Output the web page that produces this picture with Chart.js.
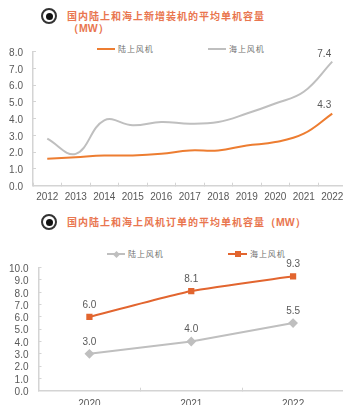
<!DOCTYPE html>
<html>
<head>
<meta charset="utf-8">
<script src="https://cdn.jsdelivr.net/npm/chart.js@4/dist/chart.umd.min.js"></script>
<style>
  html, body { margin: 0; padding: 0; background: #fff; overflow: hidden; }
  #page { position: relative; width: 343px; height: 405px; overflow: hidden; }
  canvas { position: absolute; left: 0; }
  .bullet { position: absolute; left: 41px; width: 16px; height: 16px; box-sizing: border-box;
            border: 2px solid #333; border-radius: 50%; background: #fff; }
  .bullet i { position: absolute; left: 2.5px; top: 2.5px; width: 7px; height: 7px; border-radius: 50%; background: #111; }
  .title { position: absolute; left: 67px; color: #e9764f; font: bold 10px "Noto Sans CJK SC"; letter-spacing: 1px; white-space: nowrap; line-height: 12px; }
  .title b { font-family: "Liberation Sans"; letter-spacing: 0; font-size: 10.5px; }
  .legend { position: absolute; color: #707070; font: 8px "Noto Sans CJK SC"; letter-spacing: 0.9px; white-space: nowrap; line-height: 12px; }
  .key { position: absolute; height: 2px; }
  .dot { position: absolute; }
</style>
</head>
<body>
<div id="page">
  <div class="bullet" style="top:8px"><i></i></div>
  <div class="title" style="top:10px">国内陆上和海上新增装机的平均单机容量</div>
  <div class="title" style="top:22px;left:68px"><b>（MW）</b></div>
  <div class="key" style="left:97px;top:48px;width:18px;background:#ed7d31"></div>
  <div class="legend" style="left:118px;top:43px">陆上风机</div>
  <div class="key" style="left:208px;top:48px;width:18px;background:#bfbfbf"></div>
  <div class="legend" style="left:229px;top:43px">海上风机</div>

  <div class="bullet" style="top:214px"><i></i></div>
  <div class="title" style="top:216px">国内陆上和海上风机订单的平均单机容量<b>（MW）</b></div>
  <div class="key" style="left:107px;top:253px;width:18px;background:#bfbfbf"></div>
  <div class="dot" style="left:113.5px;top:251.5px;width:5px;height:5px;background:#bfbfbf;transform:rotate(45deg)"></div>
  <div class="legend" style="left:128px;top:248px">陆上风机</div>
  <div class="key" style="left:228px;top:253px;width:19px;background:#e2652f"></div>
  <div class="dot" style="left:234.5px;top:251px;width:6px;height:6px;background:#e2652f"></div>
  <div class="legend" style="left:250px;top:248px">海上风机</div>

  <canvas id="installed"></canvas>
  <canvas id="orders"></canvas>
</div>
<script>
const installYears = ['2012','2013','2014','2015','2016','2017','2018','2019','2020','2021','2022'];
const installLand = [1.6, 1.7, 1.8, 1.8, 1.9, 2.1, 2.1, 2.4, 2.6, 3.1, 4.3];
const installSea = [2.8, 1.9, 3.9, 3.6, 3.8, 3.7, 3.8, 4.3, 4.9, 5.6, 7.4];
const orderYears = ['2020','2021','2022'];
const orderLand = [3.0, 4.0, 5.5];
const orderSea = [6.0, 8.1, 9.3];

const AXIS = '#d4d4d4';
const TEXT = '#595959';
const tickFont = { family: 'Liberation Sans', size: 10 };

// value labels above the points, offset per dataset
const pointLabels = {
  id: 'pointLabels',
  afterDatasetsDraw(chart) {
    const ctx = chart.ctx;
    ctx.save();
    ctx.font = '10px "Liberation Sans"';
    ctx.fillStyle = TEXT;
    ctx.textAlign = 'center';
    ctx.textBaseline = 'middle';
    chart.data.datasets.forEach((ds, d) => {
      chart.getDatasetMeta(d).data.forEach((pt, i) => {
        if (ds.labelLastOnly && i !== ds.data.length - 1) return;
        ctx.fillText(ds.data[i].toFixed(1), pt.x + ds.labelDx, pt.y + ds.labelDy);
      });
    });
    ctx.restore();
  }
};

// scales would otherwise reserve room for half a tick label at each end
function clearScalePadding(s) {
  s.paddingTop = s.paddingBottom = s.paddingLeft = s.paddingRight = 0;
}

// plot box is pinned so both charts sit where the page layout needs them
function makeChart(id, top, height, plot, labels, datasets, yMax) {
  const el = document.getElementById(id);
  el.style.top = top + 'px';
  el.width = 350;
  el.height = height;
  return new Chart(el, {
    type: 'line',
    data: { labels, datasets },
    plugins: [pointLabels],
    options: {
      responsive: false,
      animation: false,
      layout: { padding: { left: 0, right: 350 - plot.right, top: plot.top - top, bottom: 0 } },
      plugins: { legend: { display: false }, tooltip: { enabled: false } },
      scales: {
        x: {
          offset: true,
          grid: { offset: true, drawOnChartArea: false, color: AXIS, tickLength: -3 },
          border: { color: AXIS, width: 1.5 },
          ticks: { color: TEXT, font: tickFont, padding: plot.xGap, maxRotation: 0, autoSkip: false },
          afterFit(s) { s.height = top + height - plot.bottom; clearScalePadding(s); }
        },
        y: {
          min: 0,
          max: yMax,
          grid: { drawOnChartArea: false, color: AXIS, tickLength: -3 },
          border: { color: AXIS, width: 1.5 },
          ticks: {
            color: TEXT, font: tickFont, stepSize: 1, padding: 13, autoSkip: false, labelOffset: 1.5,
            callback: v => v.toFixed(1)
          },
          afterFit(s) { s.width = plot.left; clearScalePadding(s); }
        }
      }
    }
  });
}

makeChart('installed', 40, 165, { left: 33, right: 346.5, top: 51.5, bottom: 185.7, xGap: 9 }, installYears, [
  { data: installLand, borderColor: '#ed7d31', borderWidth: 2, tension: 0.4, pointRadius: 0,
    labelLastOnly: true, labelDx: -8, labelDy: -8 },
  { data: installSea, borderColor: '#bfbfbf', borderWidth: 2, tension: 0.4, pointRadius: 0,
    labelLastOnly: true, labelDx: -8, labelDy: -7 }
], 8);

makeChart('orders', 255, 150, { left: 38.5, right: 346.7, top: 267.7, bottom: 390.7, xGap: 11 }, orderYears, [
  { data: orderLand, borderColor: '#bfbfbf', borderWidth: 2, tension: 0, pointStyle: 'rectRot',
    pointRadius: 3.5, pointBackgroundColor: '#bfbfbf', pointBorderColor: '#bfbfbf', labelDx: 0, labelDy: -12 },
  { data: orderSea, borderColor: '#e2652f', borderWidth: 2, tension: 0.15, pointStyle: 'rect',
    pointRadius: 3, pointBackgroundColor: '#e2652f', pointBorderColor: '#e2652f', labelDx: 0, labelDy: -12 }
], 10);
</script>
</body>
</html>
